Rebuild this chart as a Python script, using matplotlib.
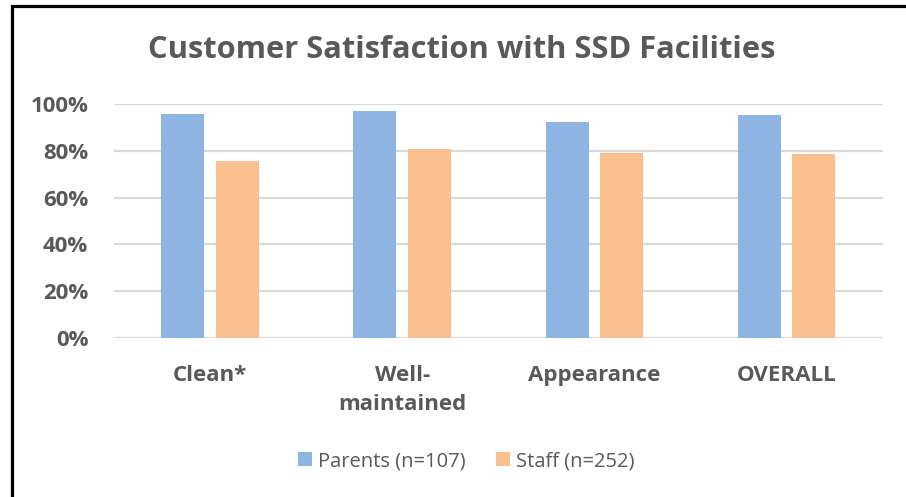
import matplotlib.pyplot as plt
from matplotlib.patches import Rectangle
from matplotlib.ticker import PercentFormatter
import numpy as np

_TEXT = "#595959"
_GRID = "#D9D9D9"
_BLUE = "#8EB4E3"
_ORANGE = "#FAC090"
_FONT = ["Open Sans", "DejaVu Sans"]

categories = ["Clean*", "Well-\nmaintained", "Appearance", "OVERALL"]
parents = [0.960, 0.970, 0.926, 0.953]
staff = [0.756, 0.808, 0.793, 0.786]
series_labels = ["Parents (n=107)", "Staff (n=252)"]

fig = plt.figure(figsize=(9.06, 4.97), dpi=100)
fig.patch.set_facecolor("white")

# frame around the chart (cut off on right and bottom)
fig.patches.append(Rectangle((11.5 / 906, -0.1), 1.2, 1 - 5.5 / 497 + 0.1,
                             transform=fig.transFigure, fill=False,
                             edgecolor="black", linewidth=2.3))

ax = fig.add_axes([114 / 906, 1 - 337.5 / 497, (882.7 - 114) / 906, (337.5 - 104.5) / 497])

x = np.arange(len(categories))
w = 0.224
off = 0.142
b1 = ax.bar(x - off, parents, w, color=_BLUE, label=series_labels[0], zorder=3)
b2 = ax.bar(x + off, staff, w, color=_ORANGE, label=series_labels[1], zorder=3)

ax.set_xlim(-0.5, 3.5)
ax.set_ylim(0, 1.0)
ax.set_yticks(np.arange(0, 1.01, 0.2))
ax.yaxis.set_major_formatter(PercentFormatter(1.0, decimals=0))
ax.grid(axis="y", color=_GRID, linewidth=1.6, zorder=0)
ax.set_axisbelow(True)
for sp in ax.spines.values():
    sp.set_visible(False)
ax.tick_params(length=0)
ax.tick_params(axis="y", pad=18.5)
ax.tick_params(axis="x", pad=19.5)
ax.set_xticks(x)
ax.set_xticklabels(categories, va="top", linespacing=1.5)
for lbl in ax.get_xticklabels() + ax.get_yticklabels():
    lbl.set_fontfamily(_FONT)
    lbl.set_fontweight("bold")
    lbl.set_fontsize(16)
    lbl.set_color(_TEXT)

fig.text(462 / 906, 1 - 50 / 497, "Customer Satisfaction with SSD Facilities",
         ha="center", va="center", fontsize=22.2, fontweight="bold",
         color=_TEXT, family=_FONT)

leg = fig.legend(handles=[b1, b2], labels=series_labels,
                 loc="center", bbox_to_anchor=(466 / 906, 1 - 461 / 497),
                 ncol=2, frameon=False, handlelength=0.7, handleheight=0.7,
                 handletextpad=0.3, columnspacing=1.5,
                 prop={"family": _FONT, "size": 14.5})
for t in leg.get_texts():
    t.set_color(_TEXT)

fig.savefig("out.png", dpi=100, facecolor="white")
